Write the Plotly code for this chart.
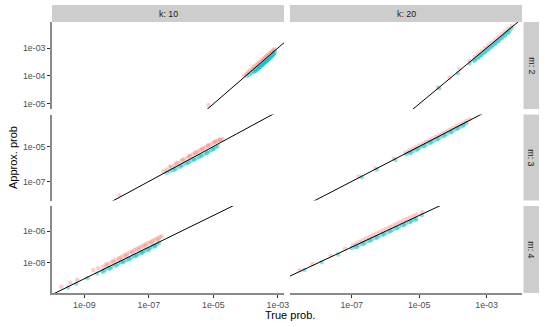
import numpy as np
import plotly.graph_objects as go

# ---- data (log10 of probabilities) ----
# facet m: 2, k: 10
lt_m2_k10_red = [-5.15, -4.05, -3.98, -3.92, -3.86, -3.80, -3.75, -3.70, -3.65, -3.60, -3.55, -3.50, -3.46, -3.42, -3.38, -3.34, -3.30, -3.26, -3.22, -3.18, -3.14, -3.10]
la_m2_k10_red = [-5.05, -3.99, -3.92, -3.86, -3.80, -3.74, -3.69, -3.64, -3.59, -3.54, -3.49, -3.44, -3.40, -3.36, -3.32, -3.28, -3.24, -3.20, -3.16, -3.12, -3.08, -3.04]
lt_m2_k10_cyan = [-3.95, -3.88, -3.82, -3.76, -3.72, -3.68, -3.64, -3.60, -3.57, -3.54, -3.51, -3.48, -3.45, -3.42, -3.39, -3.36, -3.33, -3.30, -3.27, -3.24, -3.21, -3.18, -3.15, -3.12, -3.09,
                  -3.70, -3.62, -3.55, -3.48, -3.41, -3.34, -3.27, -3.20, -3.13]
la_m2_k10_cyan = [-4.00, -3.95, -3.90, -3.85, -3.82, -3.79, -3.75, -3.71, -3.68, -3.65, -3.62, -3.59, -3.56, -3.53, -3.50, -3.47, -3.44, -3.40, -3.37, -3.33, -3.30, -3.26, -3.22, -3.18, -3.14,
                  -3.83, -3.75, -3.68, -3.61, -3.54, -3.47, -3.40, -3.33, -3.25]

# facet m: 2, k: 20
lt_m2_k20_red = [-4.45, -4.10, -3.80, -3.50, -3.35, -3.25, -3.15, -3.05, -2.95, -2.85, -2.75, -2.65, -2.55, -2.45, -2.35, -2.25]
la_m2_k20_red = [-4.41, -4.06, -3.76, -3.46, -3.31, -3.21, -3.11, -3.01, -2.91, -2.81, -2.71, -2.61, -2.51, -2.41, -2.31, -2.21]
lt_m2_k20_cyan = [-4.40, -3.85, -3.50, -3.38, -3.30, -3.22, -3.15, -3.08, -3.01, -2.94, -2.87, -2.80, -2.73, -2.66, -2.59, -2.52, -2.45, -2.38, -2.32, -2.26,
                  -3.35, -3.25, -3.15, -3.05, -2.95, -2.85, -2.75, -2.65, -2.55, -2.45, -2.35]
la_m2_k20_cyan = [-4.44, -3.90, -3.55, -3.45, -3.38, -3.30, -3.24, -3.17, -3.10, -3.03, -2.96, -2.89, -2.82, -2.75, -2.67, -2.60, -2.52, -2.44, -2.37, -2.30,
                  -3.45, -3.35, -3.25, -3.15, -3.05, -2.95, -2.85, -2.75, -2.65, -2.55, -2.45]

# facet m: 3, k: 10
lt_m3_k10_red = [-7.91, -6.55, -6.45, -6.30, -6.20, -6.10, -6.00, -5.90, -5.80, -5.72, -5.64, -5.56, -5.48, -5.40, -5.32, -5.24, -5.16, -5.08, -5.00, -4.93, -4.86, -4.79, -4.72,
                 -6.35, -6.15, -5.95, -5.75, -5.55, -5.35, -5.15, -4.95, -4.80]
la_m3_k10_red = [-7.80, -6.42, -6.32, -6.17, -6.06, -5.95, -5.85, -5.74, -5.63, -5.55, -5.46, -5.37, -5.29, -5.20, -5.12, -5.03, -4.95, -4.87, -4.79, -4.72, -4.67, -4.63, -4.57,
                 -6.15, -5.95, -5.75, -5.55, -5.35, -5.15, -4.95, -4.75, -4.60]
lt_m3_k10_cyan = [-6.45, -6.35, -6.25, -6.15, -6.05, -5.95, -5.85, -5.76, -5.68, -5.60, -5.52, -5.44, -5.36, -5.28, -5.20, -5.13, -5.06, -4.99, -4.92, -4.86,
                  -6.20, -6.00, -5.80, -5.60, -5.40, -5.20, -5.00]
la_m3_k10_cyan = [-6.50, -6.42, -6.33, -6.24, -6.15, -6.06, -5.97, -5.89, -5.82, -5.75, -5.67, -5.60, -5.52, -5.44, -5.36, -5.29, -5.21, -5.13, -5.05, -4.97,
                  -6.34, -6.14, -5.94, -5.74, -5.54, -5.34, -5.14]

# facet m: 3, k: 20
lt_m3_k20_red = [-6.80, -6.30, -5.75, -5.40, -5.30, -5.20, -5.10, -5.00, -4.90, -4.80, -4.70, -4.60, -4.50, -4.40, -4.30, -4.20, -4.10, -4.00, -3.90, -3.80, -3.70, -3.60, -3.50]
la_m3_k20_red = [-6.72, -6.24, -5.69, -5.34, -5.24, -5.14, -5.04, -4.94, -4.84, -4.74, -4.64, -4.54, -4.44, -4.34, -4.24, -4.14, -4.04, -3.94, -3.84, -3.74, -3.64, -3.54, -3.45]
lt_m3_k20_cyan = [-6.70, -6.25, -5.70, -5.38, -5.28, -5.18, -5.08, -4.98, -4.88, -4.78, -4.68, -4.58, -4.48, -4.38, -4.28, -4.18, -4.08, -3.98, -3.88, -3.78, -3.68, -3.60,
                  -5.25, -5.05, -4.85, -4.65, -4.45, -4.25, -4.05, -3.85, -3.70]
la_m3_k20_cyan = [-6.76, -6.31, -5.77, -5.45, -5.36, -5.27, -5.17, -5.08, -4.98, -4.89, -4.79, -4.70, -4.60, -4.50, -4.40, -4.30, -4.19, -4.09, -3.98, -3.87, -3.76, -3.67,
                  -5.37, -5.17, -4.97, -4.77, -4.57, -4.37, -4.17, -3.97, -3.82]

# facet m: 4, k: 10
lt_m4_k10_red = [-9.71, -9.43, -9.22, -8.72, -8.57, -8.42, -8.32, -8.22, -8.12, -8.02, -7.92, -7.84, -7.76, -7.68, -7.60, -7.52, -7.44, -7.37, -7.30, -7.23, -7.16, -7.09, -7.02, -6.95, -6.88, -6.81, -6.74, -6.67, -6.60,
                 -8.30, -8.10, -7.90, -7.70, -7.50, -7.30, -7.10, -6.90, -6.70]
la_m4_k10_red = [-9.51, -9.25, -9.06, -8.45, -8.33, -8.24, -8.08, -8.02, -7.88, -7.80, -7.68, -7.62, -7.52, -7.45, -7.34, -7.28, -7.18, -7.12, -7.03, -6.97, -6.88, -6.82, -6.74, -6.67, -6.59, -6.53, -6.45, -6.38, -6.31,
                 -8.16, -7.96, -7.76, -7.56, -7.36, -7.16, -6.96, -6.76, -6.56]
lt_m4_k10_cyan = [-9.50, -9.25, -8.90, -8.60, -8.45, -8.35, -8.25, -8.15, -8.05, -7.95, -7.86, -7.78, -7.70, -7.62, -7.54, -7.46, -7.38, -7.31, -7.24, -7.17, -7.10, -7.03, -6.96, -6.89, -6.82, -6.75, -6.68,
                  -8.40, -8.20, -8.00, -7.80, -7.60, -7.40, -7.20, -7.00, -6.80]
la_m4_k10_cyan = [-9.55, -9.32, -8.97, -8.67, -8.53, -8.43, -8.33, -8.24, -8.14, -8.05, -7.96, -7.89, -7.81, -7.73, -7.65, -7.58, -7.50, -7.43, -7.36, -7.29, -7.21, -7.14, -7.06, -6.98, -6.90, -6.82, -6.74,
                  -8.56, -8.36, -8.16, -7.96, -7.76, -7.56, -7.36, -7.16, -6.96]

# facet m: 4, k: 20
lt_m4_k20_red = [-8.54, -8.16, -7.62, -7.20, -6.97, -6.87, -6.77, -6.67, -6.57, -6.47, -6.37, -6.27, -6.17, -6.07, -5.97, -5.87, -5.77, -5.67, -5.57, -5.47, -5.37, -5.27, -5.17, -5.07, -4.90]
la_m4_k20_red = [-8.46, -8.08, -7.54, -7.10, -6.87, -6.77, -6.66, -6.56, -6.45, -6.35, -6.24, -6.14, -6.03, -5.93, -5.82, -5.72, -5.62, -5.52, -5.42, -5.32, -5.22, -5.12, -5.03, -4.94, -4.80]
lt_m4_k20_cyan = [-8.40, -7.89, -7.40, -7.00, -6.90, -6.80, -6.70, -6.60, -6.50, -6.40, -6.30, -6.20, -6.10, -6.00, -5.90, -5.80, -5.70, -5.60, -5.50, -5.40, -5.30, -5.20, -5.10, -4.92,
                  -6.85, -6.65, -6.45, -6.25, -6.05, -5.85, -5.65, -5.45, -5.25, -5.10]
la_m4_k20_cyan = [-8.45, -7.95, -7.46, -7.07, -6.98, -6.89, -6.79, -6.70, -6.60, -6.51, -6.41, -6.32, -6.22, -6.12, -6.02, -5.92, -5.82, -5.72, -5.62, -5.52, -5.42, -5.32, -5.22, -4.98,
                  -7.00, -6.80, -6.60, -6.40, -6.20, -6.00, -5.80, -5.60, -5.40, -5.25]

k_values = [10, 20]
m_values = [2, 3, 4]
group_colors = {"red": "#F8766D", "cyan": "#00BFC4"}
group_opacity = {"red": 0.36, "cyan": 0.42}

# identity reference line y = x (log10 span covering every panel)
identity_span = [-12.0, 0.0]

# tick labels
x_ticks_col = {10: ["1e-09", "1e-07", "1e-05", "1e-03"], 20: ["1e-07", "1e-05", "1e-03"]}
y_ticks_row = {2: ["1e-05", "1e-04", "1e-03"], 3: ["1e-07", "1e-05"], 4: ["1e-08", "1e-06"]}

# ---- layout geometry ----
W, H = 545, 327
ML, MR, MT, MB = 52, 23, 22, 34
PW, PH = W - ML - MR, H - MT - MB

def px_x(p):
    return (p - ML) / PW

def px_y(p):
    return (H - MB - p) / PH

col_dom = {10: [px_x(52), px_x(284)], 20: [px_x(290), px_x(522)]}
row_dom = {2: [px_y(109), px_y(22)], 3: [px_y(200.5), px_y(114.5)], 4: [px_y(293), px_y(206)]}
x_range = {10: [-10.0, -2.81], 20: [-8.83, -1.95]}
y_range = {2: [-5.18, -2.07], 3: [-8.09, -3.17], 4: [-9.9, -4.4]}

data = {
    (2, 10): {"red": (lt_m2_k10_red, la_m2_k10_red), "cyan": (lt_m2_k10_cyan, la_m2_k10_cyan)},
    (2, 20): {"red": (lt_m2_k20_red, la_m2_k20_red), "cyan": (lt_m2_k20_cyan, la_m2_k20_cyan)},
    (3, 10): {"red": (lt_m3_k10_red, la_m3_k10_red), "cyan": (lt_m3_k10_cyan, la_m3_k10_cyan)},
    (3, 20): {"red": (lt_m3_k20_red, la_m3_k20_red), "cyan": (lt_m3_k20_cyan, la_m3_k20_cyan)},
    (4, 10): {"red": (lt_m4_k10_red, la_m4_k10_red), "cyan": (lt_m4_k10_cyan, la_m4_k10_cyan)},
    (4, 20): {"red": (lt_m4_k20_red, la_m4_k20_red), "cyan": (lt_m4_k20_cyan, la_m4_k20_cyan)},
}

FONT = "Liberation Sans, Arial, sans-serif"
fig = go.Figure()
layout = dict(
    width=W, height=H,
    margin=dict(l=ML, r=MR, t=MT, b=MB, pad=0, autoexpand=False),
    paper_bgcolor="white", plot_bgcolor="white",
    showlegend=False,
    font=dict(family=FONT, size=9, color="#4D4D4D"),
)

axis_line_color = "#8A8A8A"
idx = 0
shapes = []
annotations = []
for m in m_values:
    for k in k_values:
        idx += 1
        xa = "x" if idx == 1 else f"x{idx}"
        ya = "y" if idx == 1 else f"y{idx}"
        xkey = "xaxis" if idx == 1 else f"xaxis{idx}"
        ykey = "yaxis" if idx == 1 else f"yaxis{idx}"
        for grp in ["red", "cyan"]:
            lt, la = data[(m, k)][grp]
            fig.add_trace(go.Scatter(
                x=10 ** np.array(lt), y=10 ** np.array(la), mode="markers",
                marker=dict(color=group_colors[grp], size=4.5, opacity=group_opacity[grp],
                            line=dict(width=0)),
                xaxis=xa, yaxis=ya, hoverinfo="skip"))
        span = 10 ** np.array(identity_span)
        fig.add_trace(go.Scatter(x=span, y=span, mode="lines",
                                 line=dict(color="black", width=1),
                                 xaxis=xa, yaxis=ya, hoverinfo="skip"))
        bottom = (m == m_values[-1])
        left = (k == k_values[0])
        xt = x_ticks_col[k]
        yt = y_ticks_row[m]
        layout[xkey] = dict(
            type="log", domain=col_dom[k], range=x_range[k], anchor=ya,
            showgrid=False, zeroline=False, automargin=False,
            showline=bottom, linecolor=axis_line_color, linewidth=1.6,
            ticks="outside" if bottom else "", ticklen=3, tickwidth=1, tickcolor="#333333",
            tickvals=[float(v) for v in xt], ticktext=xt, showticklabels=bottom,
            tickfont=dict(family=FONT, size=8.8, color="#4D4D4D"),
        )
        layout[ykey] = dict(
            type="log", domain=row_dom[m], range=y_range[m], anchor=xa,
            showgrid=False, zeroline=False, automargin=False,
            showline=left, linecolor=axis_line_color, linewidth=1.6,
            ticks="outside" if left else "", ticklen=3, tickwidth=1, tickcolor="#333333",
            tickvals=[float(v) for v in yt], ticktext=yt, showticklabels=left,
            tickfont=dict(family=FONT, size=8.8, color="#4D4D4D"),
        )

strip_color = "#CDCDCD"
for k in k_values:
    x0, x1 = col_dom[k]
    shapes.append(dict(type="rect", xref="paper", yref="paper", x0=x0, x1=x1,
                       y0=px_y(22), y1=px_y(5), fillcolor=strip_color, line=dict(width=0), layer="below"))
    annotations.append(dict(xref="paper", yref="paper", x=(x0 + x1) / 2, y=px_y(13.5),
                            text=f"k: {k}", showarrow=False, xanchor="center", yanchor="middle",
                            font=dict(family=FONT, size=8.8, color="#1A1A1A")))
for m in m_values:
    y0, y1 = row_dom[m]
    shapes.append(dict(type="rect", xref="paper", yref="paper", x0=px_x(523.5), x1=px_x(539),
                       y0=y0, y1=y1, fillcolor=strip_color, line=dict(width=0), layer="below"))
    annotations.append(dict(xref="paper", yref="paper", x=px_x(531.2), y=(y0 + y1) / 2,
                            text=f"m: {m}", showarrow=False, textangle=90,
                            xanchor="center", yanchor="middle",
                            font=dict(family=FONT, size=8.8, color="#1A1A1A")))

annotations.append(dict(xref="paper", yref="paper", x=px_x(290), y=px_y(315),
                        text="True prob.", showarrow=False, xanchor="center", yanchor="middle",
                        font=dict(family=FONT, size=11, color="black")))
annotations.append(dict(xref="paper", yref="paper", x=px_x(12.5), y=px_y(157.5),
                        text="Approx. prob", showarrow=False, textangle=-90,
                        xanchor="center", yanchor="middle",
                        font=dict(family=FONT, size=11, color="black")))

layout["shapes"] = shapes
layout["annotations"] = annotations
fig.update_layout(**layout)
fig.write_html("out.html", config={"displayModeBar": False},
               post_script="document.body.style.margin='0px';document.body.style.padding='0px';")
